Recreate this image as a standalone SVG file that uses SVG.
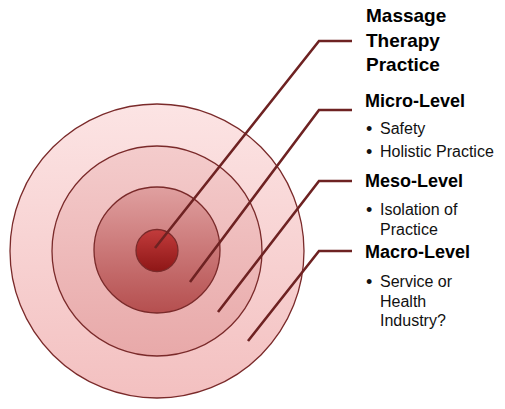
<svg xmlns="http://www.w3.org/2000/svg" width="505" height="409" viewBox="0 0 505 409">
<style>
.ring{stroke:#7a2a2a;stroke-width:1.3}
.conn{fill:none;stroke:#6e2222;stroke-width:2.6;stroke-linejoin:miter}
.h{font-family:"Liberation Sans",Arial,sans-serif;font-weight:bold;font-size:18px;fill:#000}
.t{font-family:"Liberation Sans",Arial,sans-serif;font-weight:bold;font-size:19px;fill:#000}
.b{font-family:"Liberation Sans",Arial,sans-serif;font-size:16px;fill:#111}
.d{font-family:"Liberation Sans",Arial,sans-serif;font-size:18px;fill:#111}
</style>
<defs>
<linearGradient id="g1" x1="0" y1="0" x2="0" y2="1">
<stop offset="0" stop-color="#fce4e4"/><stop offset="1" stop-color="#f3c0c0"/>
</linearGradient>
<linearGradient id="g2" x1="0" y1="0" x2="0" y2="1">
<stop offset="0" stop-color="#f4cccc"/><stop offset="1" stop-color="#e8a9a9"/>
</linearGradient>
<linearGradient id="g3" x1="0" y1="0" x2="0" y2="1">
<stop offset="0" stop-color="#e0a0a0"/><stop offset="1" stop-color="#b54f4f"/>
</linearGradient>
<linearGradient id="g4" x1="0" y1="0" x2="0" y2="1">
<stop offset="0" stop-color="#c23c3c"/><stop offset="1" stop-color="#8e1616"/>
</linearGradient>
</defs>
<g id="ring-macro"><circle class="ring" cx="157" cy="251" r="147" fill="url(#g1)"/></g>
<g id="ring-meso"><circle class="ring" cx="157" cy="251" r="105" fill="url(#g2)"/></g>
<g id="ring-micro"><circle class="ring" cx="157" cy="250" r="63" fill="url(#g3)"/></g>
<g id="ring-core"><circle class="ring" cx="157" cy="250.5" r="21" fill="url(#g4)"/></g>
<g id="connectors">
<polyline class="conn" points="155,248 319,41 352,41"/>
<polyline class="conn" points="190,282 319,110 352,110"/>
<polyline class="conn" points="218,312 319,181 352,181"/>
<polyline class="conn" points="248,341 319,251 352,251"/>
</g>
<g id="label-practice">
<text class="t" x="366" y="22">Massage</text>
<text class="t" x="366" y="47">Therapy</text>
<text class="t" x="366" y="71">Practice</text>
</g>
<g id="label-micro">
<text class="h" x="365" y="107">Micro-Level</text>
<text class="d" x="366" y="135">•</text><text class="b" x="380" y="134">Safety</text>
<text class="d" x="366" y="158">•</text><text class="b" x="380" y="157">Holistic Practice</text>
</g>
<g id="label-meso">
<text class="h" x="365" y="187">Meso-Level</text>
<text class="d" x="366" y="216">•</text><text class="b" x="380" y="215">Isolation of</text>
<text class="b" x="380" y="235">Practice</text>
</g>
<g id="label-macro">
<text class="h" x="365" y="258">Macro-Level</text>
<text class="d" x="366" y="288">•</text><text class="b" x="380" y="287">Service or</text>
<text class="b" x="380" y="307">Health</text>
<text class="b" x="380" y="326">Industry?</text>
</g>
</svg>
